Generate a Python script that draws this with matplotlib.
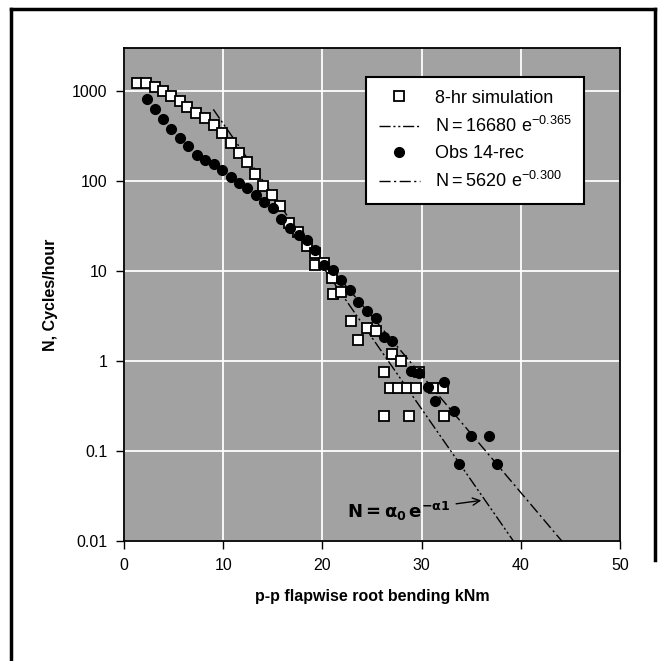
import numpy as np
import matplotlib
matplotlib.use('Agg')
import matplotlib.pyplot as plt
from matplotlib.lines import Line2D

plt.rcParams['font.family'] = ['Liberation Sans', 'DejaVu Sans']

# 8-hr simulation (open squares)
sim_x = [1.3, 2.2, 3.1, 3.9, 4.7, 5.6, 6.4, 7.3, 8.2, 9.1, 9.9, 10.8, 11.6, 12.4, 13.2,
         14.0, 14.9, 15.7, 16.6, 17.5, 18.4, 19.3, 19.3, 20.2, 21.0, 21.1, 21.9,
         22.9, 23.6, 24.5, 25.4, 26.2, 27.0, 27.9, 29.7,
         26.8, 27.6, 28.5, 29.4, 31.3, 32.2, 26.2, 28.7, 32.3]
sim_y = [1210, 1210, 1110, 1000, 880, 767, 670, 574, 500, 414, 337, 265, 205, 161, 120,
         89, 70, 53, 34, 27, 19, 16, 11.6, 12.3, 8.3, 5.5, 5.9,
         2.76, 1.71, 2.3, 2.17, 0.745, 1.2, 1.0, 0.745,
         0.5, 0.5, 0.5, 0.5, 0.5, 0.5, 0.245, 0.245, 0.245]

# Obs 14-rec (filled circles)
obs_x = [2.3, 3.15, 3.9, 4.7, 5.6, 6.5, 7.4, 8.2, 9.1, 9.9, 10.8, 11.6, 12.4, 13.3,
         14.1, 15.0, 15.8, 16.7, 17.6, 18.4, 19.3, 20.2, 21.1, 21.9, 22.8, 23.6, 24.5,
         25.4, 26.2, 27.0, 28.9, 29.7, 30.6, 31.4, 32.3, 33.3, 35.0, 36.8, 33.8, 37.6]
obs_y = [807, 624, 483, 380, 302, 243, 196, 173, 156, 133, 112, 96, 83, 70,
         59, 50, 38, 30, 25, 22, 17, 11.6, 10.2, 7.9, 6.1, 4.5, 3.6,
         3.0, 1.83, 1.68, 0.78, 0.74, 0.51, 0.36, 0.58, 0.28, 0.146, 0.146, 0.071, 0.071]

# exponential fits N = a0 * exp(-a1 * x)
fit1_a0, fit1_a1, fit1_range = 16680, 0.365, (9.0, 39.3)
fit2_a0, fit2_a1, fit2_range = 5620, 0.300, (20.0, 44.2)

y_ticks = [0.01, 0.1, 1, 10, 100, 1000]
y_labels = ['0.01', '0.1', '1', '10', '100', '1000']
x_ticks = [0, 10, 20, 30, 40, 50]

fig = plt.figure(figsize=(6.63, 6.61), dpi=100)
ax = fig.add_axes([124/663, 1-541/661, 496/663, 493/661])
ax.set_facecolor('#a2a2a2')

x1 = np.linspace(*fit1_range, 100)
x2 = np.linspace(*fit2_range, 100)
l1, = ax.plot(x1, fit1_a0*np.exp(-fit1_a1*x1), color='black', lw=1.0,
              dashes=[8, 2, 1.5, 2, 1.5, 2], zorder=3)
l2, = ax.plot(x2, fit2_a0*np.exp(-fit2_a1*x2), color='black', lw=1.0,
              dashes=[8, 2.5, 1.5, 2.5], zorder=3)
s1, = ax.plot(sim_x, sim_y, 's', ms=6.5, mfc='white', mec='black', mew=1.3,
              ls='none', zorder=4)
s2, = ax.plot(obs_x, obs_y, 'o', ms=7, mfc='black', mec='black',
              ls='none', zorder=5)

ax.set_yscale('log')
ax.set_xlim(0, 50)
ax.set_ylim(0.01, 3000)
ax.set_xticks(x_ticks)
ax.set_yticks(y_ticks)
ax.set_yticklabels(y_labels)
ax.minorticks_off()
ax.grid(True, color='white', lw=1.3)
ax.set_axisbelow(True)
ax.tick_params(direction='out', length=6, width=1, labelsize=11.5, pad=6)
for sp in ax.spines.values():
    sp.set_linewidth(1.3)

ax.set_xlabel('p-p flapwise root bending kNm', fontsize=11.5, fontweight='bold', labelpad=12)
ax.set_ylabel('N, Cycles/hour', fontsize=11.5, fontweight='bold', labelpad=10)

leg = ax.legend([s1, l1, s2, l2],
                ['8-hr simulation', r'$\mathregular{N = 16680\ e^{-0.365}}$',
                 'Obs 14-rec', r'$\mathregular{N = 5620\ e^{-0.300}}$'],
                loc='upper left', bbox_to_anchor=(0.488, 0.941), borderaxespad=0,
                fontsize=13, fancybox=False, framealpha=1, edgecolor='black',
                handlelength=2.3, labelspacing=0.5, borderpad=0.7)
leg.get_frame().set_linewidth(1.5)
leg.set_zorder(10)

ax.annotate(r'$\mathbf{N = \alpha_0\, e^{-\alpha 1}}$', xy=(36.3, 0.0285), xytext=(22.5, 0.018),
            fontsize=13, color='black',
            arrowprops=dict(arrowstyle='->', color='black', lw=1.0))

# outer frame of the original figure (no bottom edge)
fig.add_artist(Line2D([11/663, 11/663], [0, 1-9/661], color='black', lw=2.5))
fig.add_artist(Line2D([11/663, 655/663], [1-9/661, 1-9/661], color='black', lw=2.5))
fig.add_artist(Line2D([655/663, 655/663], [1-9/661, 1-560/661], color='black', lw=2.5))

fig.savefig('out.png', dpi=100)
